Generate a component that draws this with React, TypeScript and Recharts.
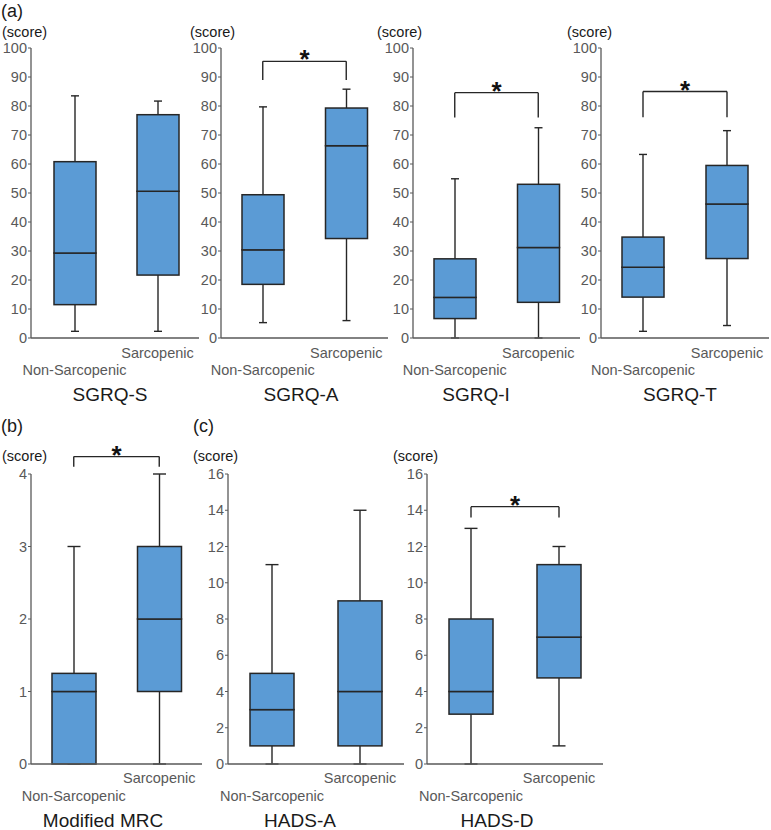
import React from 'react';
import { ComposedChart, Bar, XAxis, YAxis, ReferenceLine } from 'recharts';

const groups = ['Non-Sarcopenic', 'Sarcopenic'];

// five-number summaries: [min, q1, median, q3, max]
const sgrqSNon = [2.3, 11.5, 29.3, 60.8, 83.5];
const sgrqSSar = [2.3, 21.7, 50.6, 77.0, 81.7];
const sgrqANon = [5.3, 18.5, 30.4, 49.4, 79.7];
const sgrqASar = [6.0, 34.3, 66.3, 79.3, 85.8];
const sgrqINon = [0, 6.7, 14.0, 27.3, 54.9];
const sgrqISar = [0, 12.3, 31.2, 53.0, 72.5];
const sgrqTNon = [2.3, 14.1, 24.4, 34.8, 63.3];
const sgrqTSar = [4.3, 27.4, 46.2, 59.5, 71.5];
const mrcNon = [0, 0, 1, 1.25, 3];
const mrcSar = [0, 1, 2, 3, 4];
const hadsANon = [0, 1, 3, 5, 11];
const hadsASar = [0, 1, 4, 9, 14];
const hadsDNon = [0, 2.75, 4, 8, 13];
const hadsDSar = [1, 4.75, 7, 11, 12];

const sgrqTicks = [0, 10, 20, 30, 40, 50, 60, 70, 80, 90, 100];
const mrcTicks = [0, 1, 2, 3, 4];
const hadsTicks = [0, 2, 4, 6, 8, 10, 12, 14, 16];

// significance brackets: [leg bottom, bar top]
const sgrqABracket = [89, 95.4];
const sgrqIBracket = [76, 84.6];
const sgrqTBracket = [76.1, 85];
const mrcBracket = [4.1, 4.24];
const hadsDBracket = [13.6, 14.2];

const FONT = '"Liberation Sans", Arial, sans-serif';
const BOX_FILL = '#5b9bd5';
const DARK = '#262626';
const GRAY = '#595959';

const toRows = (non: number[], sar: number[]) =>
  [non, sar].map((s, i) => ({
    group: groups[i],
    base: s[0],
    lowWhisker: s[1] - s[0],
    lowBox: s[2] - s[1],
    highBox: s[3] - s[2],
    highWhisker: s[4] - s[3],
  }));

const makeWhisker = (cap: number, low: boolean) => (p: any) => {
  const cx = p.x + p.width / 2;
  const y1 = p.y;
  const y2 = p.y + p.height;
  const capY = low ? y2 : y1;
  return (
    <g>
      <line x1={cx} x2={cx} y1={y1} y2={y2} stroke={DARK} strokeWidth={1.4} />
      <line x1={cx - cap / 2} x2={cx + cap / 2} y1={capY} y2={capY} stroke={DARK} strokeWidth={1.4} />
    </g>
  );
};

const BoxPart = (p: any) => (
  <rect x={p.x} y={p.y} width={p.width} height={Math.max(p.height, 0)} fill={BOX_FILL} stroke={DARK} strokeWidth={1.5} />
);

const Star = (props: any) => {
  const vb = props.viewBox || {};
  const cx = (vb.x || 0) + (vb.width || 0) / 2;
  return (
    <text x={cx} y={(vb.y || 0) + 7} textAnchor="middle" fontSize={26} fontWeight="bold" fontFamily={FONT} fill="#111">
      *
    </text>
  );
};

type PanelProps = {
  left: number;
  axisX: number;
  plotEnd: number;
  top: number;
  height: number;
  plotTop: number;
  plotBottom: number;
  non: number[];
  sar: number[];
  ticks: number[];
  barSize: number;
  cap: number;
  padLeft: number;
  labelDy: number[];
  bracket?: number[];
};

const Panel = (props: PanelProps) => {
  const { left, axisX, plotEnd, top, height, plotTop, plotBottom, non, sar, ticks, barSize, cap, padLeft, labelDy, bracket } = props;
  const data = toRows(non, sar);
  const axisLocal = plotBottom - top;
  const xTick = (t: any) => (
    <text
      x={t.x}
      y={axisLocal + labelDy[t.index]}
      textAnchor="middle"
      fontSize={14.5}
      fontFamily={FONT}
      fill={GRAY}
    >
      {t.payload.value}
    </text>
  );
  return (
    <div style={{ position: 'absolute', left, top }}>
      <ComposedChart
        width={plotEnd - left}
        height={height}
        data={data}
        margin={{ top: plotTop - top, right: 0, bottom: top + height - plotBottom - 40, left: 0 }}
      >
        <XAxis
          dataKey="group"
          height={40}
          axisLine={{ stroke: GRAY, strokeWidth: 1.3 }}
          tickLine={false}
          tickSize={0}
          interval={0}
          padding={{ left: padLeft, right: 0 }}
          tick={xTick}
        />
        <YAxis
          width={axisX - left}
          domain={[ticks[0], ticks[ticks.length - 1]]}
          ticks={ticks}
          interval={0}
          axisLine={{ stroke: GRAY, strokeWidth: 1.3 }}
          tickLine={{ stroke: GRAY }}
          tickSize={3}
          tickMargin={1}
          tick={{ fontSize: 14.5, fontFamily: FONT, fill: GRAY }}
        />
        <Bar dataKey="base" stackId="a" barSize={barSize} shape={() => null} isAnimationActive={false} />
        <Bar dataKey="lowWhisker" stackId="a" barSize={barSize} shape={makeWhisker(cap, true)} isAnimationActive={false} />
        <Bar dataKey="lowBox" stackId="a" barSize={barSize} shape={BoxPart} isAnimationActive={false} />
        <Bar dataKey="highBox" stackId="a" barSize={barSize} shape={BoxPart} isAnimationActive={false} />
        <Bar dataKey="highWhisker" stackId="a" barSize={barSize} shape={makeWhisker(cap, false)} isAnimationActive={false} />
        {bracket && (
          <ReferenceLine
            segment={[{ x: groups[0], y: bracket[0] }, { x: groups[0], y: bracket[1] }]}
            stroke={DARK}
            strokeWidth={1.4}
            ifOverflow="visible"
          />
        )}
        {bracket && (
          <ReferenceLine
            segment={[{ x: groups[1], y: bracket[0] }, { x: groups[1], y: bracket[1] }]}
            stroke={DARK}
            strokeWidth={1.4}
            ifOverflow="visible"
          />
        )}
        {bracket && (
          <ReferenceLine
            segment={[{ x: groups[0], y: bracket[1] }, { x: groups[1], y: bracket[1] }]}
            stroke={DARK}
            strokeWidth={1.4}
            ifOverflow="visible"
            label={<Star />}
          />
        )}
      </ComposedChart>
    </div>
  );
};

const topRow = { top: 0, height: 400, plotTop: 48, plotBottom: 338, barSize: 42, cap: 8, labelDy: [37, 20] };
const bottomRow = { top: 400, height: 430, plotTop: 474, plotBottom: 764, barSize: 44, cap: 13, labelDy: [37, 19] };

const labelStyle = { fontFamily: FONT, fill: '#1a1a1a' };

export default function App() {
  return (
    <div style={{ position: 'absolute', left: 0, top: 0, width: 771, height: 830, background: '#fff', overflow: 'hidden' }}>
      <Panel {...topRow} left={1} axisX={31} plotEnd={199} non={sgrqSNon} sar={sgrqSSar} ticks={sgrqTicks} padLeft={2} />
      <Panel {...topRow} left={191} axisX={221} plotEnd={388} non={sgrqANon} sar={sgrqASar} ticks={sgrqTicks} padLeft={0} bracket={sgrqABracket} />
      <Panel {...topRow} left={383} axisX={413} plotEnd={580} non={sgrqINon} sar={sgrqISar} ticks={sgrqTicks} padLeft={0} bracket={sgrqIBracket} />
      <Panel {...topRow} left={571} axisX={601} plotEnd={769} non={sgrqTNon} sar={sgrqTSar} ticks={sgrqTicks} padLeft={0} bracket={sgrqTBracket} />
      <Panel {...bottomRow} left={1} axisX={31} plotEnd={202} non={mrcNon} sar={mrcSar} ticks={mrcTicks} padLeft={0} bracket={mrcBracket} />
      <Panel {...bottomRow} left={198} axisX={228} plotEnd={404} non={hadsANon} sar={hadsASar} ticks={hadsTicks} padLeft={0} />
      <Panel {...bottomRow} left={397} axisX={427} plotEnd={603} non={hadsDNon} sar={hadsDSar} ticks={hadsTicks} padLeft={0} bracket={hadsDBracket} />
      <svg width={771} height={830} style={{ position: 'absolute', left: 0, top: 0, pointerEvents: 'none' }}>
        <text x={1} y={17} fontSize={18} {...labelStyle}>(a)</text>
        <text x={2} y={37} fontSize={14.5} {...labelStyle}>(score)</text>
        <text x={190} y={37} fontSize={14.5} {...labelStyle}>(score)</text>
        <text x={377} y={37} fontSize={14.5} {...labelStyle}>(score)</text>
        <text x={567} y={37} fontSize={14.5} {...labelStyle}>(score)</text>
        <text x={110} y={401} fontSize={19} textAnchor="middle" {...labelStyle}>SGRQ-S</text>
        <text x={301} y={401} fontSize={19} textAnchor="middle" {...labelStyle}>SGRQ-A</text>
        <text x={476} y={401} fontSize={19} textAnchor="middle" {...labelStyle}>SGRQ-I</text>
        <text x={680} y={401} fontSize={19} textAnchor="middle" {...labelStyle}>SGRQ-T</text>
        <text x={1} y={432} fontSize={18} {...labelStyle}>(b)</text>
        <text x={193} y={432} fontSize={18} {...labelStyle}>(c)</text>
        <text x={2} y={461} fontSize={14.5} {...labelStyle}>(score)</text>
        <text x={193} y={461} fontSize={14.5} {...labelStyle}>(score)</text>
        <text x={393} y={461} fontSize={14.5} {...labelStyle}>(score)</text>
        <text x={103} y={827} fontSize={19} textAnchor="middle" {...labelStyle}>Modified MRC</text>
        <text x={300} y={827} fontSize={19} textAnchor="middle" {...labelStyle}>HADS-A</text>
        <text x={497} y={827} fontSize={19} textAnchor="middle" {...labelStyle}>HADS-D</text>
      </svg>
    </div>
  );
}
